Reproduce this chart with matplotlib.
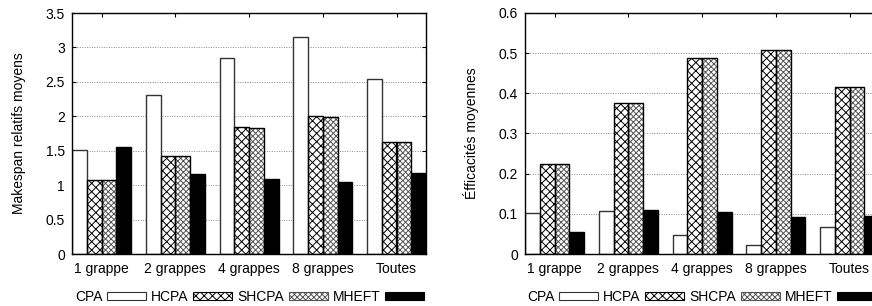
import matplotlib
matplotlib.use("Agg")
import matplotlib.pyplot as plt
import matplotlib.ticker as mticker
from matplotlib.patches import Patch
import numpy as np

plt.rcParams['font.family'] = ['Liberation Sans', 'DejaVu Sans']
plt.rcParams['font.size'] = 10
plt.rcParams['hatch.linewidth'] = 0.7

categories = ["1 grappe", "2 grappes", "4 grappes", "8 grappes", "Toutes"]
series = ["CPA", "HCPA", "SHCPA", "MHEFT"]

makespan_cpa = [1.51, 2.31, 2.84, 3.15, 2.54]
makespan_hcpa = [1.08, 1.43, 1.85, 2.00, 1.63]
makespan_shcpa = [1.08, 1.42, 1.83, 1.99, 1.62]
makespan_mheft = [1.55, 1.16, 1.09, 1.05, 1.18]

eff_cpa = [0.103, 0.108, 0.048, 0.022, 0.067]
eff_hcpa = [0.225, 0.377, 0.489, 0.509, 0.417]
eff_shcpa = [0.225, 0.375, 0.487, 0.509, 0.415]
eff_mheft = [0.055, 0.109, 0.104, 0.091, 0.094]

styles = [
    dict(face="white", hatch=None, hcol="black", edge="#333333"),
    dict(face="white", hatch="xxxx", hcol="black", edge="black"),
    dict(face="white", hatch="xxxxxx", hcol="#555555", edge="black"),
    dict(face="black", hatch=None, hcol="black", edge="black"),
]

W, H = 872, 306
fig = plt.figure(figsize=(W / 100, H / 100), dpi=100)

ax1 = fig.add_axes([72 / W, 1 - 254 / H, 354 / W, 241 / H])
ax2 = fig.add_axes([525 / W, 1 - 254 / H, 354 / W, 241 / H])

bw = 0.2
x = np.arange(len(categories))
offsets = [-1.5, -0.5, 0.5, 1.5]


def draw(ax, data, ymax, ystep, ylabel):
    for vals, off, st in zip(data, offsets, styles):
        pos = x + off * bw
        # hatched fill
        ax.bar(pos, vals, width=bw, color=st["face"], hatch=st["hatch"],
               edgecolor=st["hcol"], linewidth=0, zorder=2)
        # outline
        ax.bar(pos, vals, width=bw, fill=False, edgecolor=st["edge"],
               linewidth=1.0, zorder=3)
    ax.set_xlim(-0.4, len(categories) - 1 + 0.4)
    ax.set_ylim(0, ymax)
    ax.set_xticks(x)
    ax.set_xticklabels(categories)
    ax.yaxis.set_major_locator(mticker.MultipleLocator(ystep))
    ax.yaxis.set_major_formatter(mticker.FormatStrFormatter('%g'))
    ax.tick_params(direction='in', top=True, right=True, length=3, width=0.8,
                   pad=5)
    ax.tick_params(axis='x', bottom=False, pad=6)
    ax.grid(axis='y', linestyle=(0, (1, 1.5)), color='#888888', linewidth=0.7,
            zorder=1)
    ax.set_axisbelow(True)
    for s in ax.spines.values():
        s.set_linewidth(1.0)
        s.set_zorder(4)
    ax.set_ylabel(ylabel, labelpad=14)


draw(ax1, [makespan_cpa, makespan_hcpa, makespan_shcpa, makespan_mheft],
     3.5, 0.5, "Makespan relatifs moyens")
draw(ax2, [eff_cpa, eff_hcpa, eff_shcpa, eff_mheft],
     0.6, 0.1, "Éfficacités moyennes")

handles = [Patch(facecolor=st["face"], hatch=st["hatch"], edgecolor=st["edge"]
                 if st["hatch"] is None else st["hcol"], linewidth=0.8)
           for st in styles]

for ax, left in ((ax1, 75), (ax2, 527)):
    fig.legend(handles, series, loc='center left',
               bbox_to_anchor=(left / W, 1 - 297 / H),
               ncol=4, markerfirst=False, frameon=False,
               handlelength=2.8, handleheight=0.5, handletextpad=0.35,
               columnspacing=0.35, borderpad=0, borderaxespad=0)

fig.savefig("out.png", dpi=100)
